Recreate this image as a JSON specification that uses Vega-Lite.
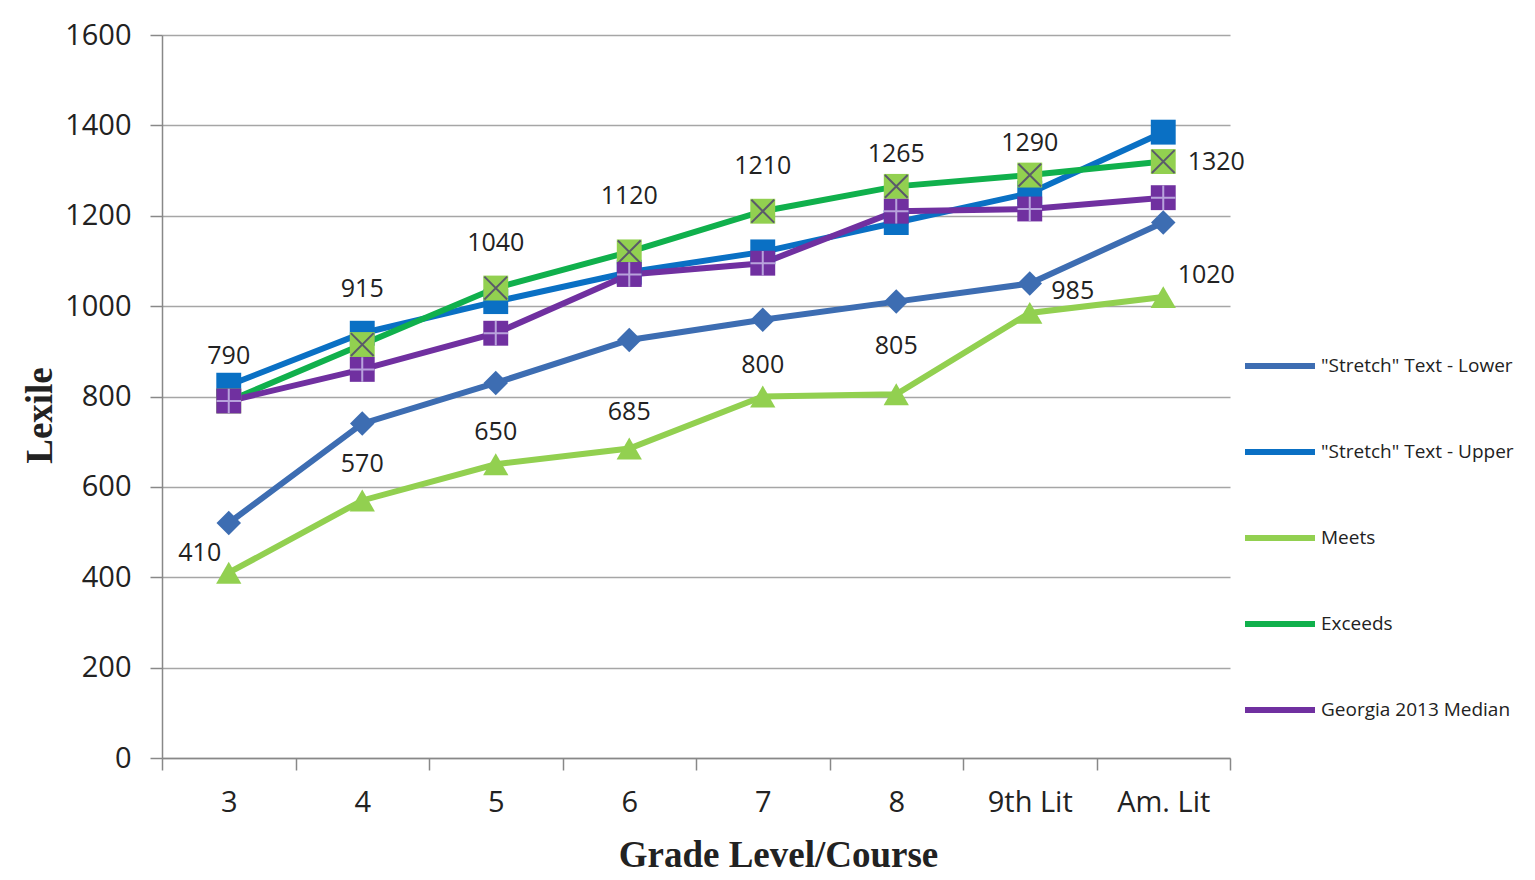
{
  "$schema": "https://vega.github.io/schema/vega-lite/v6.json",
  "width": 1068,
  "height": 723,
  "autosize": "none",
  "padding": {"left": 162, "top": 35, "right": 305, "bottom": 122},
  "background": "white",
  "config": {
    "view": {"stroke": null},
    "font": "Open Sans"
  },
  "data": {
    "values": [
      {"grade": "3", "series": "\"Stretch\" Text - Lower", "lexile": 520},
      {"grade": "4", "series": "\"Stretch\" Text - Lower", "lexile": 740},
      {"grade": "5", "series": "\"Stretch\" Text - Lower", "lexile": 830},
      {"grade": "6", "series": "\"Stretch\" Text - Lower", "lexile": 925},
      {"grade": "7", "series": "\"Stretch\" Text - Lower", "lexile": 970},
      {"grade": "8", "series": "\"Stretch\" Text - Lower", "lexile": 1010},
      {"grade": "9th Lit", "series": "\"Stretch\" Text - Lower", "lexile": 1050},
      {"grade": "Am. Lit", "series": "\"Stretch\" Text - Lower", "lexile": 1185},
      {"grade": "3", "series": "\"Stretch\" Text - Upper", "lexile": 825},
      {"grade": "4", "series": "\"Stretch\" Text - Upper", "lexile": 940},
      {"grade": "5", "series": "\"Stretch\" Text - Upper", "lexile": 1010},
      {"grade": "6", "series": "\"Stretch\" Text - Upper", "lexile": 1075},
      {"grade": "7", "series": "\"Stretch\" Text - Upper", "lexile": 1120},
      {"grade": "8", "series": "\"Stretch\" Text - Upper", "lexile": 1185},
      {"grade": "9th Lit", "series": "\"Stretch\" Text - Upper", "lexile": 1250},
      {"grade": "Am. Lit", "series": "\"Stretch\" Text - Upper", "lexile": 1385},
      {"grade": "3", "series": "Meets", "lexile": 410},
      {"grade": "4", "series": "Meets", "lexile": 570},
      {"grade": "5", "series": "Meets", "lexile": 650},
      {"grade": "6", "series": "Meets", "lexile": 685},
      {"grade": "7", "series": "Meets", "lexile": 800},
      {"grade": "8", "series": "Meets", "lexile": 805},
      {"grade": "9th Lit", "series": "Meets", "lexile": 985},
      {"grade": "Am. Lit", "series": "Meets", "lexile": 1020},
      {"grade": "3", "series": "Exceeds", "lexile": 790},
      {"grade": "4", "series": "Exceeds", "lexile": 915},
      {"grade": "5", "series": "Exceeds", "lexile": 1040},
      {"grade": "6", "series": "Exceeds", "lexile": 1120},
      {"grade": "7", "series": "Exceeds", "lexile": 1210},
      {"grade": "8", "series": "Exceeds", "lexile": 1265},
      {"grade": "9th Lit", "series": "Exceeds", "lexile": 1290},
      {"grade": "Am. Lit", "series": "Exceeds", "lexile": 1320},
      {"grade": "3", "series": "Georgia 2013 Median", "lexile": 790},
      {"grade": "4", "series": "Georgia 2013 Median", "lexile": 860},
      {"grade": "5", "series": "Georgia 2013 Median", "lexile": 940},
      {"grade": "6", "series": "Georgia 2013 Median", "lexile": 1070},
      {"grade": "7", "series": "Georgia 2013 Median", "lexile": 1095},
      {"grade": "8", "series": "Georgia 2013 Median", "lexile": 1210},
      {"grade": "9th Lit", "series": "Georgia 2013 Median", "lexile": 1215},
      {"grade": "Am. Lit", "series": "Georgia 2013 Median", "lexile": 1240}
    ]
  },
  "encoding": {
    "x": {
      "field": "grade",
      "type": "ordinal",
      "bandPosition": 0.5,
      "sort": ["3", "4", "5", "6", "7", "8", "9th Lit", "Am. Lit"],
      "scale": {"type": "band", "paddingInner": 0, "paddingOuter": 0},
      "axis": {
        "title": "Grade Level/Course",
        "titleFont": "Liberation Serif",
        "titleFontSize": 37,
        "titleFontWeight": "bold",
        "titleColor": "#222",
        "titlePadding": 20,
        "titleX": 616,
        "labelFont": "Open Sans",
        "labelFontSize": 29,
        "labelColor": "#222",
        "labelAngle": 0,
        "labelPadding": 18,
        "tickBand": "extent",
        "tickSize": 12,
        "tickColor": "#888",
        "tickWidth": 1.5,
        "domainColor": "#888",
        "domainWidth": 1.5,
        "grid": false
      }
    },
    "y": {
      "field": "lexile",
      "type": "quantitative",
      "scale": {"domain": [0, 1600], "nice": false},
      "axis": {
        "title": "Lexile",
        "titleFont": "Liberation Serif",
        "titleFontSize": 37,
        "titleFontWeight": "bold",
        "titleColor": "#222",
        "titlePadding": 5,
        "titleY": 380,
        "values": [0, 200, 400, 600, 800, 1000, 1200, 1400, 1600],
        "format": "d",
        "labelFont": "Open Sans",
        "labelFontSize": 29,
        "labelColor": "#222",
        "labelPadding": 19,
        "tickSize": 12,
        "tickColor": "#888",
        "tickWidth": 1.5,
        "domainColor": "#888",
        "domainWidth": 1.5,
        "grid": true,
        "gridColor": "#a6a6a6",
        "gridWidth": 1.5
      }
    }
  },
  "layer": [
    {
      "mark": {"type": "line", "strokeWidth": 6},
      "encoding": {
        "color": {
          "field": "series",
          "type": "nominal",
          "scale": {
            "domain": ["\"Stretch\" Text - Lower", "\"Stretch\" Text - Upper", "Meets", "Exceeds", "Georgia 2013 Median"],
            "range": ["#3d6db2", "#0a70c4", "#92d050", "#10b04c", "#7030a0"]
          },
          "legend": {
            "title": null,
            "orient": "none",
            "legendX": 1080,
            "legendY": 293,
            "symbolType": "stroke",
            "symbolSize": 4900,
            "symbolStrokeWidth": 6,
            "labelFont": "Open Sans",
            "labelFontSize": 19,
            "labelColor": "#222",
            "labelOffset": 3,
            "rowPadding": 36,
            "labelLimit": 300
          }
        }
      }
    },
    {
      "transform": [{"filter": "datum.series == '\"Stretch\" Text - Lower'"}],
      "mark": {"type": "point", "shape": "diamond", "filled": true, "fill": "#3d6db2", "opacity": 1, "size": 600}
    },
    {
      "transform": [{"filter": "datum.series == '\"Stretch\" Text - Upper'"}],
      "mark": {"type": "point", "shape": "square", "filled": true, "fill": "#0a70c4", "opacity": 1, "size": 620}
    },
    {
      "transform": [{"filter": "datum.series == 'Meets'"}],
      "mark": {"type": "point", "shape": "triangle-up", "filled": true, "fill": "#92d050", "opacity": 1, "size": 640}
    },
    {
      "transform": [{"filter": "datum.series == 'Exceeds'"}],
      "mark": {"type": "point", "shape": "square", "filled": true, "fill": "#92d050", "opacity": 1, "size": 620}
    },
    {
      "transform": [{"filter": "datum.series == 'Exceeds'"}],
      "mark": {"type": "point", "shape": "M-1,-1L1,1M1,-1L-1,1", "filled": false, "stroke": "#5a5a6a", "strokeWidth": 2, "size": 520, "opacity": 1}
    },
    {
      "transform": [{"filter": "datum.series == 'Georgia 2013 Median'"}],
      "mark": {"type": "point", "shape": "square", "filled": true, "fill": "#7030a0", "opacity": 1, "size": 620}
    },
    {
      "transform": [{"filter": "datum.series == 'Georgia 2013 Median'"}],
      "mark": {"type": "point", "shape": "M0,-1L0,1M-1,0L1,0", "filled": false, "stroke": "#b8a2dc", "strokeWidth": 2, "size": 600, "opacity": 1}
    },
    {
      "transform": [{"filter": "datum.series == 'Exceeds' && (datum.grade == '3' || datum.grade == '5' || datum.grade == '7')"}],
      "mark": {"type": "text", "dy": -45, "fontSize": 25, "font": "Open Sans", "color": "#222"},
      "encoding": {"text": {"field": "lexile", "type": "quantitative"}}
    },
    {
      "transform": [{"filter": "datum.series == 'Exceeds' && (datum.grade == '4' || datum.grade == '6')"}],
      "mark": {"type": "text", "dy": -56, "fontSize": 25, "font": "Open Sans", "color": "#222"},
      "encoding": {"text": {"field": "lexile", "type": "quantitative"}}
    },
    {
      "transform": [{"filter": "datum.series == 'Exceeds' && (datum.grade == '8' || datum.grade == '9th Lit')"}],
      "mark": {"type": "text", "dy": -32, "fontSize": 25, "font": "Open Sans", "color": "#222"},
      "encoding": {"text": {"field": "lexile", "type": "quantitative"}}
    },
    {
      "transform": [{"filter": "datum.series == 'Exceeds' && datum.grade == 'Am. Lit'"}],
      "mark": {"type": "text", "dx": 53, "fontSize": 25, "font": "Open Sans", "color": "#222"},
      "encoding": {"text": {"field": "lexile", "type": "quantitative"}}
    },
    {
      "transform": [{"filter": "datum.series == 'Meets' && datum.grade == '3'"}],
      "mark": {"type": "text", "dx": -29, "dy": -20, "fontSize": 25, "font": "Open Sans", "color": "#222"},
      "encoding": {"text": {"field": "lexile", "type": "quantitative"}}
    },
    {
      "transform": [{"filter": "datum.series == 'Meets' && (datum.grade == '4' || datum.grade == '6')"}],
      "mark": {"type": "text", "dy": -36, "fontSize": 25, "font": "Open Sans", "color": "#222"},
      "encoding": {"text": {"field": "lexile", "type": "quantitative"}}
    },
    {
      "transform": [{"filter": "datum.series == 'Meets' && (datum.grade == '5' || datum.grade == '7')"}],
      "mark": {"type": "text", "dy": -32, "fontSize": 25, "font": "Open Sans", "color": "#222"},
      "encoding": {"text": {"field": "lexile", "type": "quantitative"}}
    },
    {
      "transform": [{"filter": "datum.series == 'Meets' && datum.grade == '8'"}],
      "mark": {"type": "text", "dy": -48, "fontSize": 25, "font": "Open Sans", "color": "#222"},
      "encoding": {"text": {"field": "lexile", "type": "quantitative"}}
    },
    {
      "transform": [{"filter": "datum.series == 'Meets' && (datum.grade == '9th Lit' || datum.grade == 'Am. Lit')"}],
      "mark": {"type": "text", "dx": 43, "dy": -22, "fontSize": 25, "font": "Open Sans", "color": "#222"},
      "encoding": {"text": {"field": "lexile", "type": "quantitative"}}
    }
  ]
}
